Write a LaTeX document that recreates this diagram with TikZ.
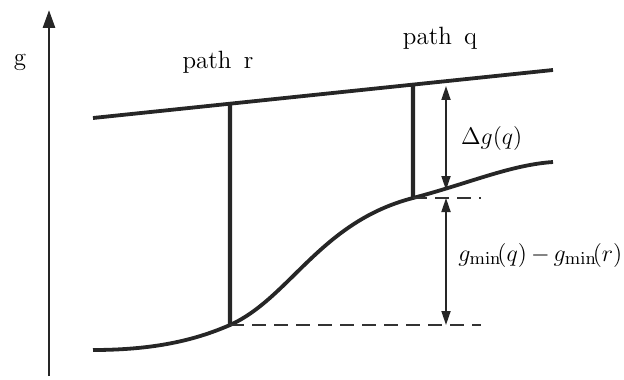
\documentclass[tikz,border=0pt]{standalone}
\usepackage{amsmath}
\usepackage{tikz}
\usetikzlibrary{arrows.meta,positioning,calc}

\begin{document}
\begin{tikzpicture}[
    x=0.5pt,y=-0.5pt,
    every node/.style={font=\fontsize{12.5}{15}\selectfont},
    level/.style={line width=1.9pt,black!85},
    pathbar/.style={line width=2.1pt,black!85},
    axis/.style={-{Triangle[length=9pt,width=6pt]},line width=1.4pt,black!85},
    gap/.style={{Triangle[length=7pt,width=4.5pt]}-{Triangle[length=7pt,width=4.5pt]},line width=0.9pt,black!85},
    guide/.style={dashed,dash pattern=on 7pt off 4pt,line width=0.9pt,black!80}
  ]
    \useasboundingbox (0,0) rectangle (624,379);
    % axis
    \coordinate (ax0) at (49,376);
    \coordinate (ax1) at (49,10);
    \draw[axis] (ax0) -- (ax1);
    \node (glab) at (20,62) {g};
    % upper level and lower curve
    \coordinate (up0) at (93,118);
    \coordinate (up1) at (553,70);
    \draw[level] (up0) -- (up1);
    \coordinate (lo0) at (93,350);
    \coordinate (rbot) at (230,325);
    \coordinate (qbot) at (413,198);
    \coordinate (lo1) at (553,162);
    \draw[level] (lo0) .. controls (160,350) and (200,338) .. (rbot)
      .. controls (290,298) and (320,222) .. (qbot)
      .. controls (470,183) and (510,165) .. (lo1);
    % the two paths
    \coordinate (rtop) at ($(up0)!0.2978!(up1)$);
    \coordinate (qtop) at ($(up0)!0.6957!(up1)$);
    \draw[pathbar] (rtop) -- (rbot);
    \draw[pathbar] (qtop) -- (qbot);
    \node (rlab) at (218,62) {path\, r};
    \node (qlab) at (440,38) {path\, q};
    % dashed guides
    \coordinate (qend) at (481,198);
    \coordinate (rend) at (481,325);
    \draw[guide] (qbot) -- (qend);
    \draw[guide] (rbot) -- (rend);
    % differences
    \coordinate (d0) at (446,86);
    \coordinate (d1) at (446,190);
    \coordinate (m0) at (446,198);
    \coordinate (m1) at (446,325);
    \draw[gap] (d1) -- (d0);
    \draw[gap] (m0) -- (m1);
    \node[right=4pt of $(d0)!0.5!(d1)$] (dlab) {$\Delta g(q)$};
    \node[right=5pt of $(m0)!0.45!(m1)$,inner sep=1pt] (mlab) {$g_{\min}\!(q)\,{-}\,g_{\min}\!(r)$};
\end{tikzpicture}
\end{document}
